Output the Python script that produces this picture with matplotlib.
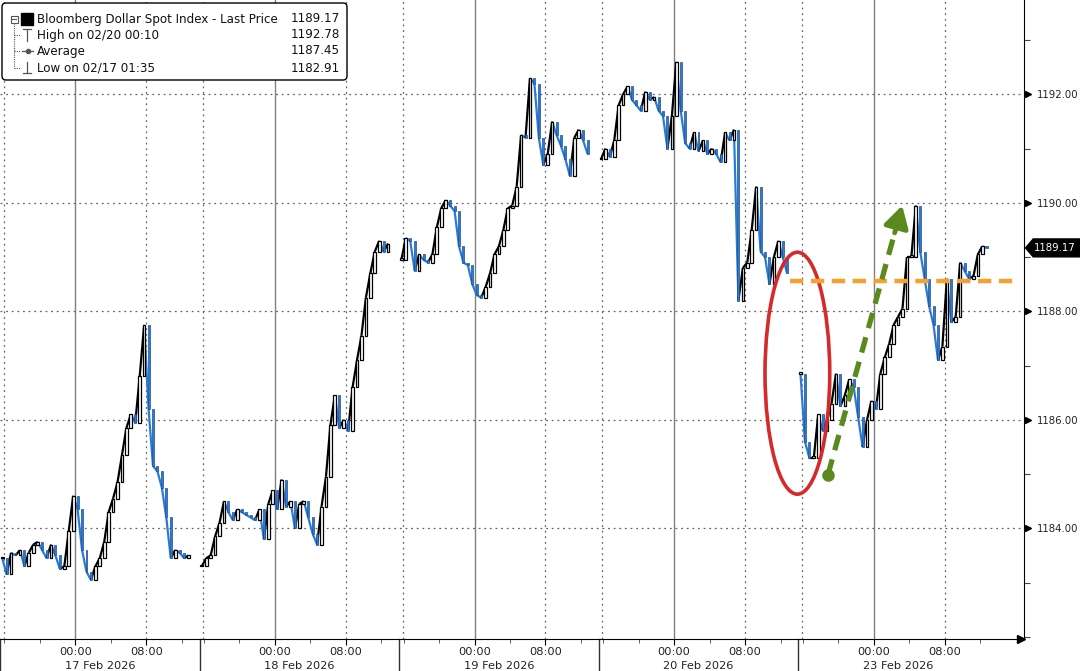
import matplotlib
matplotlib.use("Agg")
from matplotlib import pyplot as plt
import matplotlib.patches as patches
from matplotlib.collections import LineCollection
from matplotlib.ticker import MultipleLocator, FixedLocator
import numpy as np

plt.rcParams['font.family'] = ['DejaVu Sans']

# 30 min closes per session, first bar ~15:45 the day before
days = ["17 Feb 2026", "18 Feb 2026", "19 Feb 2026", "20 Feb 2026", "23 Feb 2026"]
feb17 = [1183.45, 1183.15, 1183.55, 1183.5, 1183.6, 1183.3, 1183.55, 1183.7, 1183.75, 1183.6,
         1183.45, 1183.7, 1183.5, 1183.25, 1183.3, 1183.95, 1184.6, 1184.35, 1183.6, 1183.2,
         1183.05, 1183.3, 1183.45, 1183.75, 1184.3, 1184.55, 1184.85, 1185.35, 1185.85, 1186.1,
         1185.95, 1186.8, 1187.75, 1186.2, 1185.15, 1185.05, 1184.75, 1184.2, 1183.45, 1183.6,
         1183.55, 1183.45, 1183.5]
feb18 = [1183.3, 1183.45, 1183.5, 1183.85, 1184.1, 1184.5, 1184.3, 1184.15, 1184.35, 1184.3,
         1184.25, 1184.2, 1184.15, 1184.35, 1183.8, 1184.45, 1184.7, 1184.35, 1184.9, 1184.4,
         1184.5, 1184.0, 1184.45, 1184.5, 1184.2, 1183.9, 1183.7, 1184.4, 1184.95, 1185.9,
         1186.45, 1185.85, 1186.0, 1185.8, 1186.6, 1187.1, 1187.55, 1188.25, 1188.7, 1189.1,
         1189.3, 1189.1, 1189.25]
feb19 = [1188.95, 1189.35, 1189.3, 1188.75, 1189.05, 1188.95, 1188.9, 1189.05, 1189.55, 1189.9,
         1190.05, 1189.95, 1189.85, 1189.2, 1188.9, 1188.85, 1188.5, 1188.3, 1188.25, 1188.45,
         1188.7, 1189.05, 1189.2, 1189.5, 1189.9, 1189.95, 1190.3, 1191.25, 1191.2, 1192.3,
         1192.2, 1191.2, 1190.7, 1190.9, 1191.5, 1191.25, 1191.05, 1190.8, 1190.5, 1191.2,
         1191.35, 1191.15, 1190.9]
feb20 = [1190.8, 1191.0, 1190.85, 1191.15, 1191.8, 1192.0, 1192.15, 1191.9, 1191.8, 1191.7,
         1192.05, 1191.9, 1191.95, 1191.7, 1191.6, 1191.0, 1191.6, 1192.6, 1191.7, 1191.1,
         1191.0, 1191.3, 1190.95, 1191.15, 1190.9, 1191.0, 1190.9, 1190.75, 1191.3, 1191.15,
         1191.35, 1188.2, 1188.8, 1188.9, 1189.5, 1190.3, 1189.1, 1189.0, 1188.5, 1189.0,
         1189.3, 1189.0, 1188.7]
feb23 = [1186.85, 1185.6, 1185.3, 1185.3, 1186.1, 1185.8, 1186.0, 1186.3, 1186.85, 1186.25,
         1186.45, 1186.75, 1186.6, 1186.05, 1185.5, 1186.0, 1186.35, 1186.2, 1186.85, 1187.15,
         1187.4, 1187.75, 1187.9, 1188.05, 1189.0, 1189.0, 1189.95, 1189.1, 1188.6, 1188.1,
         1187.75, 1187.1, 1187.35, 1188.6, 1187.8, 1187.9, 1188.9, 1188.75, 1188.6, 1188.65,
         1189.05, 1189.2, 1189.17]
sessions = [feb17, feb18, feb19, feb20, feb23]

legend_names = ["Bloomberg Dollar Spot Index - Last Price", "High on 02/20 00:10",
                "Average", "Low on 02/17 01:35"]
legend_values = [1189.17, 1192.78, 1187.45, 1182.91]
last_price = 1189.17
y_ticks = [1184, 1186, 1188, 1190, 1192]

# annotations (data coords)
fri_close_level = 1188.56
arrow_start = (93.35, 1184.99)
arrow_end = (101.8, 1190.0)
ellipse_center = (89.9, 1186.86)

SESSION = 22.5   # trading hours shown per day
STEP = 0.5
MIDNIGHT = 8.5
BLUE = '#2b7bd6'

fig = plt.figure(figsize=(10.8, 6.71), dpi=100)
ax = fig.add_axes([0, 32 / 671, 1024 / 1080, 639 / 671])
ax.set_xlim(0, 115.45)
ax.set_ylim(1181.96, 1193.74)
ax.set_facecolor('white')

# grid
for k in range(5):
    ax.axvline(k * SESSION + MIDNIGHT, color='#808080', lw=1.0, zorder=1)
    ax.axvline(k * SESSION + MIDNIGHT + 8, color='#666666', lw=0.9, ls=(0, (1.5, 3)), zorder=1)
    ax.axvline(k * SESSION + 0.4, color='#666666', lw=0.9, ls=(0, (1.5, 3)), zorder=1)
for v in y_ticks:
    ax.axhline(v, color='#666666', lw=0.9, ls=(0, (1.5, 3)), zorder=1)

# price path + candles
for k, closes in enumerate(sessions):
    c = np.array(closes)
    t = k * SESSION + 0.25 + STEP * np.arange(len(c))
    o = np.concatenate([[c[0]], c[:-1]])
    up = c >= o
    pts = np.column_stack([t, c])
    segs = np.stack([pts[:-1], pts[1:]], axis=1)
    cols = ['black' if u else BLUE for u in up[1:]]
    ax.add_collection(LineCollection(segs, colors=cols, linewidths=1.6, zorder=3))
    bot = np.minimum(o, c)
    hgt = np.maximum(np.abs(c - o), 0.03)
    ax.bar(t[up], hgt[up], bottom=bot[up], width=0.3, facecolor='white',
           edgecolor='black', linewidth=0.9, zorder=4)
    ax.bar(t[~up], hgt[~up], bottom=bot[~up], width=0.22, facecolor=BLUE,
           edgecolor='#1d4f8f', linewidth=0.5, zorder=4)

# red ellipse, orange line, green arrow
ax.add_patch(patches.Ellipse(ellipse_center, 7.3, 4.46, fill=False, ec='#d42a2a', lw=2.6, zorder=5))
ax.plot([89.06, 114.8], [fri_close_level] * 2, color='#f5a030', lw=3.2, ls=(0, (3, 1.7)), zorder=5)
green = '#5a8a1e'
dx = arrow_end[0] - arrow_start[0]
dy = arrow_end[1] - arrow_start[1]
ax.plot([arrow_start[0], arrow_start[0] + dx * 0.9], [arrow_start[1], arrow_start[1] + dy * 0.9],
        color=green, lw=3.8, ls=(0, (3, 1.8)), zorder=6)
ax.annotate('', xy=arrow_end, xytext=(arrow_start[0] + dx * 0.88, arrow_start[1] + dy * 0.88),
            arrowprops=dict(arrowstyle='-|>,head_length=1.3,head_width=0.75', color=green, lw=3.5),
            zorder=6)
ax.plot(*arrow_start, marker='o', ms=8, color=green, zorder=6)

# spines
for s in ['left', 'top']:
    ax.spines[s].set_visible(False)
ax.spines['right'].set_color('black')
ax.spines['bottom'].set_color('black')

# y axis on the right
ax.yaxis.tick_right()
ax.set_yticks(y_ticks)
ax.set_yticklabels(['%.2f' % v for v in y_ticks])
ax.yaxis.set_minor_locator(MultipleLocator(1))
ax.tick_params(axis='y', which='major', length=0, pad=9, labelsize=7.3, labelcolor='#222222')
ax.tick_params(axis='y', which='minor', length=4, width=0.8, color='#444444')
ax.plot(np.full(len(y_ticks), 1.004), y_ticks, ls='none', marker='>', ms=5, color='black',
        transform=ax.get_yaxis_transform(), clip_on=False, zorder=7)

# last price tag
yt = ax.get_yaxis_transform()
tag = patches.Polygon([(1.0015, last_price), (1.009, last_price + 0.165), (1.06, last_price + 0.165),
                       (1.06, last_price - 0.165), (1.009, last_price - 0.165)],
                      closed=True, fc='black', ec='black', transform=yt, clip_on=False, zorder=8)
ax.add_patch(tag)
ax.text(1.0098, last_price, '%.2f' % last_price, color='white', fontsize=7.3, va='center',
        ha='left', transform=yt, zorder=9)

# x axis
major_x, major_lbl, minor_x = [], [], []
for k in range(5):
    base = k * SESSION
    major_x += [base + MIDNIGHT, base + MIDNIGHT + 8]
    major_lbl += ['00:00', '08:00']
    minor_x += [base + 0.5, base + 4.5, base + 12.5, base + 20.5]
ax.xaxis.set_major_locator(FixedLocator(major_x))
ax.set_xticklabels(major_lbl)
ax.xaxis.set_minor_locator(FixedLocator(minor_x))
ax.tick_params(axis='x', which='major', length=4, pad=2, labelsize=8.2, labelcolor='#222222')
ax.tick_params(axis='x', which='minor', length=3, color='#444444')
xt = ax.get_xaxis_transform()
for k, d in enumerate(days):
    ax.text(k * SESSION + SESSION / 2, -0.042, d, transform=xt, ha='center', va='center',
            fontsize=8.2, color='#222222')
    ax.plot([k * SESSION] * 2, [0, -0.06], transform=xt, color='#333333', lw=1, clip_on=False)
ax.plot(0.997, 0, marker='>', ms=6, color='black', transform=ax.transAxes, clip_on=False, zorder=7)

# legend box, pixel coordinates
ov = fig.add_axes([0, 0, 1, 1], zorder=10)
ov.set_xlim(0, 1080)
ov.set_ylim(671, 0)
ov.axis('off')
ov.patch.set_alpha(0)
ov.add_patch(patches.FancyBboxPatch((2, 3), 345, 77, boxstyle='round,pad=0,rounding_size=4',
                                    fc='white', ec='black', lw=1))
rows = [19, 35, 51, 68]
for name, val, y in zip(legend_names, legend_values, rows):
    ov.text(37, y, name, fontsize=8.6, va='center', ha='left', color='#111111')
    ov.text(340, y, '%.2f' % val, fontsize=8.6, va='center', ha='right', color='#111111')
g = '#555555'
ov.add_patch(patches.Rectangle((10.5, 15.5), 7, 7, fill=False, ec=g, lw=0.8))
ov.plot([12, 16], [19, 19], color=g, lw=0.8)
ov.add_patch(patches.Rectangle((21, 13), 12, 12, fc='black', ec='black'))
ov.plot([14, 14], [23, 68], color=g, lw=0.8, ls=(0, (1, 1)))
for y in rows[1:]:
    ov.plot([14, 20], [y, y], color=g, lw=0.8, ls=(0, (1, 1)))
ov.plot([23, 31], [29, 29], color=g, lw=0.9)
ov.plot([27, 27], [29, 41], color=g, lw=0.9)
ov.plot([22, 33], [51, 51], color=g, lw=0.9)
ov.plot(27.5, 51, marker='o', ms=3, color=g)
ov.plot([27, 27], [62, 73], color=g, lw=0.9)
ov.plot([23, 31], [73, 73], color=g, lw=0.9)

fig.savefig('out.png', dpi=100)
